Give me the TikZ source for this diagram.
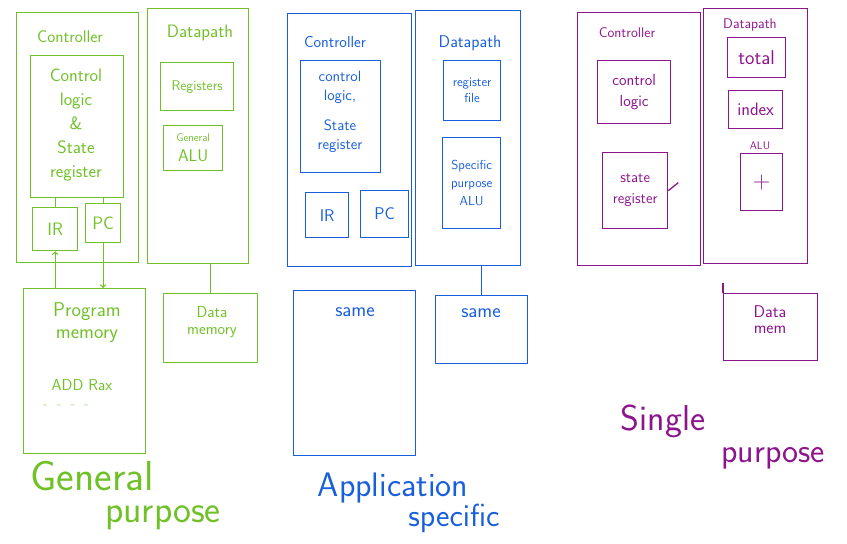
\documentclass[tikz,border=0pt]{standalone}
\usepackage{fontspec}
\usepackage{tikz}
\definecolor{gpgreen}{RGB}{112,192,40}
\definecolor{asblue}{RGB}{25,95,220}
\definecolor{sppurple}{RGB}{140,20,140}
\tikzset{
  box/.style={draw, line width=1.3pt, inner sep=0pt, anchor=north west, align=center},
  wire/.style={line width=1.3pt},
  txt/.style={inner sep=0pt, align=center},
}
\newcommand{\fs}[1]{\fontsize{#1}{#1}\selectfont}

\begin{document}
\begin{tikzpicture}[x=1pt,y=-1pt,font=\sffamily]
\useasboundingbox (0,0) rectangle (847,544);
%General purpose
\begin{scope}[gpgreen]
\node[box, minimum width=122pt, minimum height=250pt] (gctrl) at (16,12) {};
\node[txt, font=\sffamily\fs{17}] (gctrltxt) at (70,37) {Controller};
\node[box, minimum width=93pt, minimum height=142pt] (glogic) at (30,55) {};
\node[txt, font=\sffamily\fs{18}] (glogictxt) at (76,125)
  {Control\\[6pt]logic\\[6pt]\&\\[6pt]State\\[6pt]register};
\node[box, minimum width=45pt, minimum height=43pt, font=\sffamily\fs{18}] (gir) at (32,207) {IR};
\node[box, minimum width=35pt, minimum height=39pt, font=\sffamily\fs{18}] (gpc) at (85,203) {PC};
\node[box, minimum width=101pt, minimum height=255pt] (gdp) at (147,8) {};
\node[txt, font=\sffamily\fs{18}] (gdptxt) at (200,33) {Datapath};
\node[box, minimum width=73pt, minimum height=48pt, font=\sffamily\fs{14}] (greg) at (160,62) {Registers};
\node[box, minimum width=59pt, minimum height=45pt, font=\sffamily\fs{17}] (galu) at (163,125)
  {{\fs{11}General}\\[3pt]ALU};
\node[box, minimum width=122pt, minimum height=165pt] (gpmem) at (23,288) {};
\node[txt, font=\sffamily\fs{20}] (gpmemtxt) at (87,323) {Program\\[2pt]memory};
\node[txt, font=\sffamily\fs{16}] (gadd) at (82,385) {ADD Rax};
\node[txt, font=\sffamily\fs{14}, gpgreen!60] (gdots) at (66,407) {-\ \ -\ \ -\ \ -};
\node[box, minimum width=94pt, minimum height=69pt] (gdmem) at (163,293) {};
\node[txt, font=\sffamily\fs{16}] (gdmemtxt) at (212,322) {Data\\[1pt]memory};
\draw[wire] (gir.north) -- (gir.north |- glogic.south);
\draw[wire] (gpc.north) -- (gpc.north |- glogic.south);
\draw[wire,->] (gir.south |- gpmem.north) -- (gir.south);
\draw[wire,->] (gpc.south) -- (gpc.south |- gpmem.north);
\draw[wire] (gdmem.north) -- (gdmem.north |- gdp.south);
\node[txt, font=\sffamily\fs{42}] (gbig1) at (92,476) {General};
\node[txt, font=\sffamily\fs{38}] (gbig2) at (163,518) {purpose};
\end{scope}
%Application specific
\begin{scope}[asblue]
\node[box, minimum width=124pt, minimum height=253pt] (bctrl) at (287,13) {};
\node[txt, font=\sffamily\fs{16}] (bctrltxt) at (335,42) {Controller};
\node[box, minimum width=80pt, minimum height=112pt] (blogic) at (300,60) {};
\node[txt, font=\sffamily\fs{15}] (blogictxt1) at (340,87) {control\\[4pt]logic,};
\node[txt, font=\sffamily\fs{15}] (blogictxt2) at (340,136) {State\\[4pt]register};
\node[box, minimum width=43pt, minimum height=45pt, font=\sffamily\fs{17}] (bir) at (305,192) {IR};
\node[box, minimum width=48pt, minimum height=47pt, font=\sffamily\fs{17}] (bpc) at (360,190) {PC};
\node[box, minimum width=105pt, minimum height=255pt] (bdp) at (415,10) {};
\node[txt, font=\sffamily\fs{17}] (bdptxt) at (470,43) {Datapath};
\node[box, minimum width=57pt, minimum height=60pt, font=\sffamily\fs{13}] (breg) at (443,60)
  {register\\[3pt]file};
\node[box, minimum width=58pt, minimum height=91pt, font=\sffamily\fs{13}] (balu) at (442,137)
  {Specific\\[5pt]purpose\\[5pt]ALU};
\node[box, minimum width=122pt, minimum height=165pt] (bpmem) at (293,290) {};
\node[txt, font=\sffamily\fs{20}] (bpmemtxt) at (355,312) {same};
\node[box, minimum width=92pt, minimum height=68pt] (bdmem) at (435,295) {};
\node[txt, font=\sffamily\fs{20}] (bdmemtxt) at (481,313) {same};
\draw[wire] (bdmem.north) -- (bdmem.north |- bdp.south);
\node[txt, font=\sffamily\fs{34}] (bbig1) at (393,488) {Application};
\node[txt, font=\sffamily\fs{32}] (bbig2) at (454,518) {specific};
\end{scope}
%Single purpose
\begin{scope}[sppurple]
\node[box, minimum width=123pt, minimum height=253pt] (pctrl) at (577,12) {};
\node[txt, font=\sffamily\fs{14}] (pctrltxt) at (627,33) {Controller};
\node[box, minimum width=73pt, minimum height=63pt, font=\sffamily\fs{16}] (plogic) at (597,60)
  {control\\[5pt]logic};
\node[box, minimum width=65pt, minimum height=76pt, font=\sffamily\fs{15}] (pstate) at (602,152)
  {state\\[6pt]register};
\draw[wire] (pstate.east) -- ++(10,-8);
\node[box, minimum width=104pt, minimum height=255pt] (pdp) at (703,8) {};
\node[txt, font=\sffamily\fs{14}] (pdptxt) at (750,25) {Datapath};
\node[box, minimum width=58pt, minimum height=40pt, font=\sffamily\fs{20}] (ptotal) at (727,37) {total};
\node[box, minimum width=54pt, minimum height=38pt, font=\sffamily\fs{18}] (pindex) at (728,90) {index};
\node[txt, font=\sffamily\fs{11}] (palutxt) at (760,146) {ALU};
\node[box, minimum width=42pt, minimum height=57pt, font=\sffamily\fs{24}] (palu) at (740,153) {+};
\node[box, minimum width=94pt, minimum height=67pt] (pdmem) at (723,293) {};
\node[txt, font=\sffamily\fs{17}] (pdmemtxt) at (770,320) {Data\\[-1pt]mem};
\draw[wire] (pdmem.north west) -- ++(0,-10);
\node[txt, font=\sffamily\fs{36}] (pbig1) at (663,421) {Single};
\node[txt, font=\sffamily\fs{34}] (pbig2) at (773,458) {purpose};
\end{scope}
\end{tikzpicture}
\end{document}
